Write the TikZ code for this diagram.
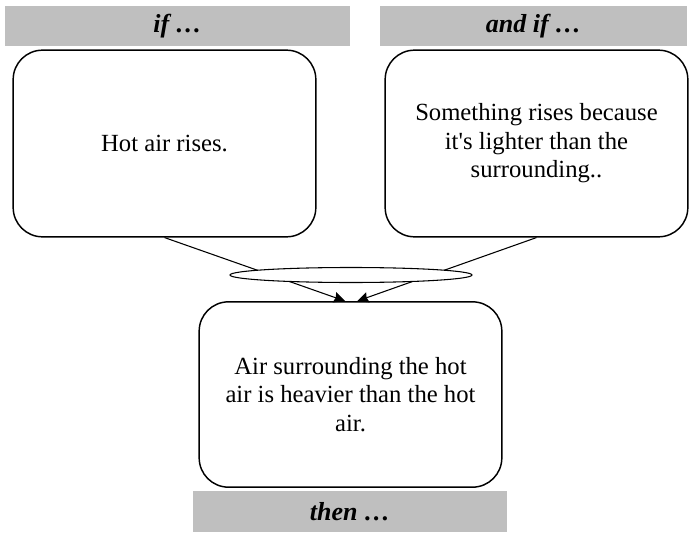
\documentclass[tikz,border=0pt]{standalone}
\usepackage{fontspec}
\setmainfont{Liberation Serif}
\usetikzlibrary{shapes.geometric,arrows.meta}

\begin{document}
\begin{tikzpicture}[x=0.75pt,y=-0.75pt,>={Stealth[length=8.5pt,width=8pt,inset=1pt]},
    claim/.style={draw, rectangle, rounded corners=22pt, line width=1.1pt,
        minimum width=227pt, minimum height=140pt, align=center,
        font=\fontsize{18.5}{21.4}\selectfont},
    banner/.style={rectangle, fill=gray!50, minimum height=30pt,
        font=\fontsize{19.5}{22}\selectfont\bfseries\itshape}]
        \useasboundingbox (0,0) rectangle (693,535);

        \node (ifbar) [banner, minimum width=259pt] at (177.5,26) {if \dots};
        \node (andbar) [banner, minimum width=230pt] at (533.5,26) {and if \dots};

        \node (hot) [claim] at (164.5,143.5) {Hot air rises.};
        \node (light) [claim] at (536.5,143.5) {Something rises because\\it\textquotesingle s lighter than the\\surrounding..};

        \node (heavy) [claim, minimum height=139pt] at (350.5,394.5) {Air surrounding the hot\\air is heavier than the hot\\air.};
        \node (thenbar) [banner, minimum width=235.5pt, minimum height=31pt] at (350,511.5) {then \dots};

        \draw[->, line width=0.8pt] (hot.south) -- ([xshift=-4pt]heavy.north);
        \draw[->, line width=0.8pt] (light.south) -- ([xshift=5pt]heavy.north);

        \node (join) [draw, ellipse, fill=white, line width=0.8pt, minimum width=181.5pt, minimum height=11.25pt, inner sep=0pt] at (351,275) {};
    \end{tikzpicture}
\end{document}
